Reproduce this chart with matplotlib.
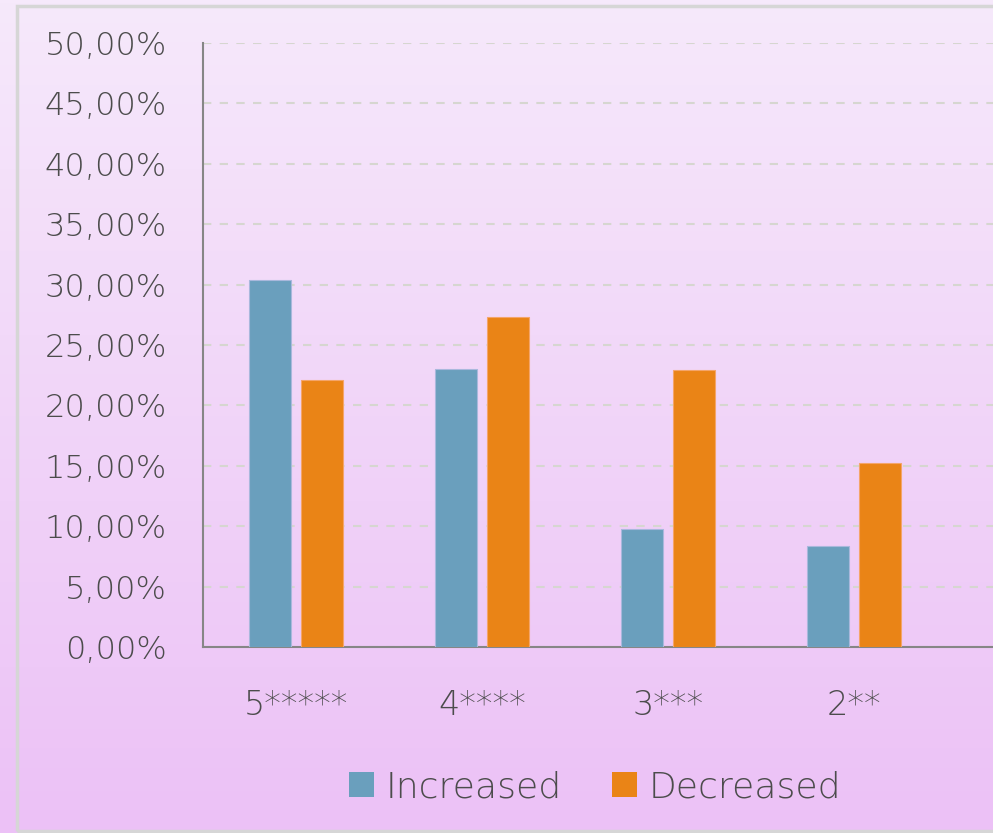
import matplotlib
matplotlib.use("Agg")
import matplotlib.pyplot as plt
import numpy as np
from matplotlib.patches import Patch, Rectangle
from matplotlib.ticker import FuncFormatter, MultipleLocator

# ---------------------------------------------------------------------------
# Data
# ---------------------------------------------------------------------------
categories = ["5*****", "4****", "3***", "2**"]
increased = [0.304, 0.230, 0.098, 0.084]
decreased = [0.221, 0.273, 0.229, 0.152]
series_names = ["Increased", "Decreased"]

BLUE = "#6a9fbd"
ORANGE = "#ea8416"
TEXT = "#4c4c4c"
W, H = 993, 833

plt.rcParams["font.family"] = ["DejaVu Sans"]
plt.rcParams["font.weight"] = "light"

fig = plt.figure(figsize=(W / 100, H / 100), dpi=100)

# background gradient (light lavender -> pink purple)
bg = fig.add_axes([0, 0, 1, 1], zorder=0)
top = np.array([246, 233, 251]) / 255
bot = np.array([236, 193, 246]) / 255
t = np.linspace(0, 1, 256)[:, None]
grad = top[None, :] * (1 - t) + bot[None, :] * t
bg.imshow(grad[:, None, :], aspect="auto", extent=[0, 1, 0, 1], origin="upper")
bg.set_xlim(0, 1)
bg.set_ylim(0, 1)
bg.axis("off")
# outer chart frame
bg.add_patch(Rectangle((17 / W, 1 - 831 / H), 1.2, (831 - 6) / H,
                       fill=False, edgecolor="#d6d6d6", linewidth=2.5))

# plot area
left, bottom, top_px = 203, 647, 43
ax = fig.add_axes([left / W, 1 - bottom / H, (W - left) / W, (bottom - top_px) / H],
                  zorder=1)
ax.patch.set_alpha(0)

group_px = 186
x = np.arange(len(categories))
bw = 42 / group_px
off = 0.142
ax.bar(x - off, increased, width=bw, color=BLUE, edgecolor="#a9b8dc",
       linewidth=0.8, zorder=3, label=series_names[0])
ax.bar(x + off, decreased, width=bw, color=ORANGE, edgecolor="#f4a56a",
       linewidth=0.8, zorder=3, label=series_names[1])

ax.set_xlim(-0.5, (W - left) / group_px - 0.5)
ax.set_ylim(0, 0.5)
ax.yaxis.set_major_locator(MultipleLocator(0.05))
ax.yaxis.set_major_formatter(
    FuncFormatter(lambda v, _: f"{v * 100:.2f}%".replace(".", ",")))
ax.set_xticks(x)
ax.set_xticklabels(categories)

ax.grid(axis="y", color="#d6d6d0", linestyle=(0, (4, 4)), linewidth=1.5, zorder=1)
ax.tick_params(axis="y", length=0, pad=26, labelsize=23, labelcolor=TEXT)
ax.tick_params(axis="x", length=0, pad=30, labelsize=24, labelcolor=TEXT)

for side in ("top", "right"):
    ax.spines[side].set_visible(False)
for side in ("left", "bottom"):
    ax.spines[side].set_color("#868686")
    ax.spines[side].set_linewidth(1.5)

handles = [Patch(facecolor=BLUE, edgecolor="none"),
           Patch(facecolor=ORANGE, edgecolor="none")]
fig.legend(handles, series_names, loc="center", bbox_to_anchor=(595 / W, 1 - 787 / H),
           ncol=2, frameon=False, fontsize=26, labelcolor=TEXT,
           handlelength=0.7, handleheight=0.7, handletextpad=0.3, columnspacing=1.4)

fig.savefig("out.png", dpi=100)
